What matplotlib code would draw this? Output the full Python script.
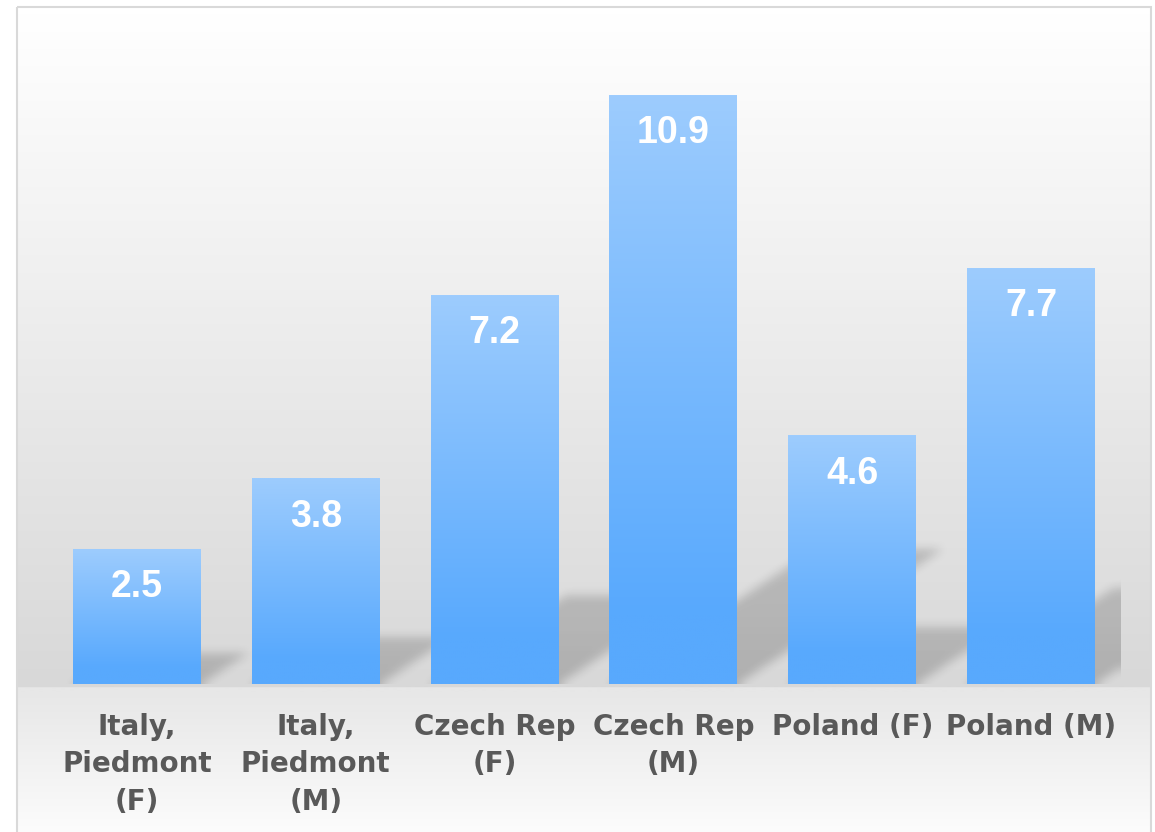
import numpy as np
import matplotlib
matplotlib.use("Agg")
import matplotlib.pyplot as plt
from matplotlib.patches import Rectangle
from matplotlib.path import Path

# data
labels = ["Italy,\nPiedmont\n(F)", "Italy,\nPiedmont\n(M)", "Czech Rep\n(F)",
          "Czech Rep\n(M)", "Poland (F)", "Poland (M)"]
values = [2.5, 3.8, 7.2, 10.9, 4.6, 7.7]

W, H = 1155, 832
fig = plt.figure(figsize=(W / 100, H / 100), dpi=100)
fig.patch.set_facecolor("white")

# chart background with vertical gradient + border
bg = fig.add_axes([0, 0, 1, 1], zorder=0)
bg.set_xlim(0, W)
bg.set_ylim(H, 0)
bg.axis("off")
yy = np.arange(H)
g = np.where(yy <= 685,
             255 - (255 - 0xd8) * np.clip((yy - 7) / (684 - 7), 0, 1),
             0xe7 + (0xfc - 0xe7) * np.clip((yy - 690) / (H - 690), 0, 1))
grad = np.repeat((g / 255.0)[:, None, None], 3, axis=2)
bg.imshow(grad, extent=(17, 1151, H, 7), aspect="auto", interpolation="bilinear")
bg.add_patch(Rectangle((17, 7), 1134, 830, facecolor="none", edgecolor="#d9d9d9", lw=1.5))

# plot area
ax = fig.add_axes([47.5 / W, 148 / H, 1073 / W, 648 / H], zorder=1)
ax.patch.set_alpha(0)
x = np.arange(len(values))
xlim = (-0.5, len(values) - 0.5)
ylim = (0, 12)
bw = 0.715
bars = ax.bar(x, values, width=bw, color="none", zorder=3)

# soft perspective shadows, rasterised in axes pixels
pw, ph = 1073, 648
gx, gy = np.meshgrid(np.arange(pw) + 0.5, np.arange(ph) + 0.5)
pts = np.column_stack([gx.ravel(), gy.ravel()])
alpha = np.zeros((ph, pw))


def to_px(xd, yd):
    return ((xd - xlim[0]) / (xlim[1] - xlim[0]) * pw,
            (yd - ylim[0]) / (ylim[1] - ylim[0]) * ph)


def box_blur(a, r):
    for axis in (0, 1):
        c = np.cumsum(np.pad(a, [(r + 1, r) if i == axis else (0, 0) for i in range(2)],
                             mode="edge"), axis=axis)
        if axis == 0:
            a = (c[2 * r + 1:, :] - c[:-2 * r - 1, :]) / (2 * r + 1)
        else:
            a = (c[:, 2 * r + 1:] - c[:, :-2 * r - 1]) / (2 * r + 1)
    return a


for b in bars:
    x0, w, h = b.get_x(), b.get_width(), b.get_height()
    dx, dy = 0.1056 * h, 0.23 * h
    poly = [to_px(x0, 0), to_px(x0 + w, 0), to_px(x0 + w + dx, dy), to_px(x0 + dx, dy)]
    m = Path(poly).contains_points(pts).reshape(ph, pw).astype(float)
    top = to_px(0, dy)[1]
    fade = np.clip(1 - 0.12 * gy / max(top, 1), 0, 1)
    alpha = np.maximum(alpha, m * fade)

alpha = box_blur(box_blur(alpha, 5), 5)
shadow = np.zeros((ph, pw, 4))
shadow[..., 3] = alpha * 0.19
ax.imshow(shadow, extent=(xlim[0], xlim[1], ylim[0], ylim[1]), origin="lower",
          aspect="auto", zorder=2, interpolation="bilinear")

# gradient fill for the bars
light = np.array([0x9d, 0xcc, 0xfe]) / 255
dark = np.array([0x58, 0xa9, 0xfd]) / 255
t = np.clip(np.linspace(0, 1, 200) / 0.88, 0, 1)
bar_grad = (light + (dark - light) * t[:, None])[:, None, :]
for b in bars:
    x0, w, h = b.get_x(), b.get_width(), b.get_height()
    ax.imshow(bar_grad, extent=(x0, x0 + w, 0, h), aspect="auto", zorder=3,
              interpolation="bilinear")

for xi, v in zip(x, values):
    ax.annotate(f"{v}", xy=(xi, v), xytext=(0, -48), textcoords="offset pixels",
                ha="center", va="baseline", color="white", fontsize=27,
                fontweight="bold", family="Liberation Sans", zorder=5)

ax.set_xlim(*xlim)
ax.set_ylim(*ylim)
ax.set_xticks(x)
ax.set_xticklabels(labels, fontsize=20, fontweight="bold", color="#595959",
                   family="DejaVu Sans")
for lb in ax.get_xticklabels():
    lb.set_linespacing(1.42)
ax.tick_params(axis="x", length=0, pad=21)
ax.set_yticks([])
for s in ax.spines.values():
    s.set_visible(False)

fig.savefig("out.png", dpi=100)
